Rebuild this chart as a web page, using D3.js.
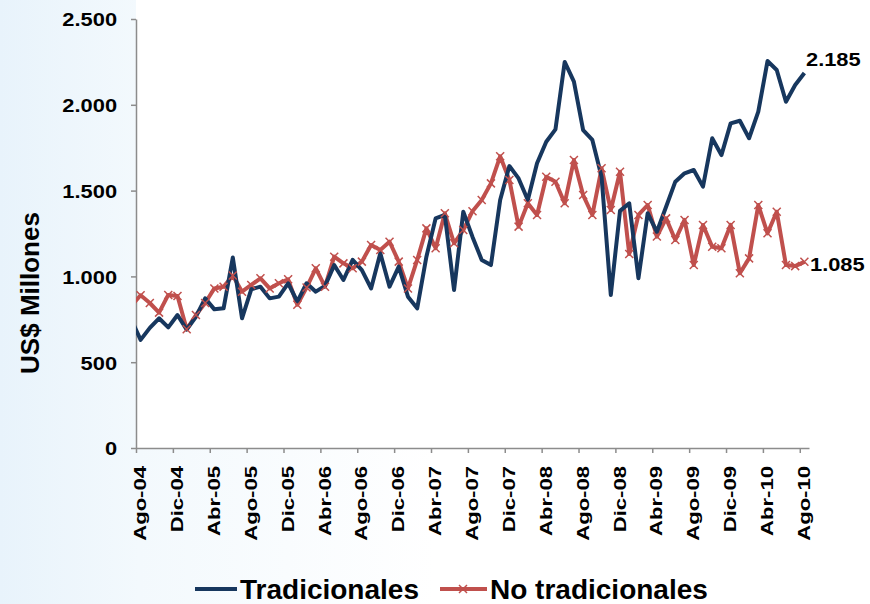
<!DOCTYPE html>
<html>
<head>
<meta charset="utf-8">
<script src="https://cdnjs.cloudflare.com/ajax/libs/d3/7.8.5/d3.min.js"></script>
<style>
    body { margin: 0; background: #fff; }
    text { font-family: "Liberation Sans", Arial, sans-serif; font-weight: bold; fill: #000; }
</style>
</head>
<body>
<svg id="chart" width="870" height="604"></svg>
<script>
// months, first one (Jul-04) sits left of the axis and gets clipped
var meses = ["Jul-04",
    "Ago-04", "Sep-04", "Oct-04", "Nov-04", "Dic-04", "Ene-05", "Feb-05", "Mar-05", "Abr-05", "May-05", "Jun-05", "Jul-05",
    "Ago-05", "Sep-05", "Oct-05", "Nov-05", "Dic-05", "Ene-06", "Feb-06", "Mar-06", "Abr-06", "May-06", "Jun-06", "Jul-06",
    "Ago-06", "Sep-06", "Oct-06", "Nov-06", "Dic-06", "Ene-07", "Feb-07", "Mar-07", "Abr-07", "May-07", "Jun-07", "Jul-07",
    "Ago-07", "Sep-07", "Oct-07", "Nov-07", "Dic-07", "Ene-08", "Feb-08", "Mar-08", "Abr-08", "May-08", "Jun-08", "Jul-08",
    "Ago-08", "Sep-08", "Oct-08", "Nov-08", "Dic-08", "Ene-09", "Feb-09", "Mar-09", "Abr-09", "May-09", "Jun-09", "Jul-09",
    "Ago-09", "Sep-09", "Oct-09", "Nov-09", "Dic-09", "Ene-10", "Feb-10", "Mar-10", "Abr-10", "May-10", "Jun-10", "Jul-10",
    "Ago-10"];

var tradicionales = [748,
    630, 700, 756, 703, 775, 690, 765, 872, 808, 814, 1110, 756,
    925, 940, 872, 882, 960, 853, 960, 911, 945, 1066, 979, 1096,
    1037, 930, 1135, 940, 1057, 882, 814, 1115, 1338, 1358, 921, 1377,
    1230, 1096, 1066, 1445, 1643, 1571, 1445, 1659, 1785, 1857, 2250, 2135,
    1853, 1795, 1581, 892, 1382, 1426, 989, 1368, 1260, 1406, 1552, 1601,
    1620, 1523, 1805, 1707, 1892, 1907, 1805, 1960, 2255, 2203, 2018, 2115,
    2185];

var noTradicionales = [829,
    890, 845, 789, 892, 886, 692, 775, 845, 930, 940, 1005, 911,
    950, 989, 930, 960, 983, 835, 935, 1047, 940, 1115, 1076, 1047,
    1086, 1183, 1154, 1202, 1086, 930, 1096, 1280, 1164, 1368, 1193, 1270,
    1380, 1445, 1542, 1700, 1562, 1290, 1426, 1358, 1581, 1552, 1426, 1678,
    1474, 1358, 1630, 1387, 1610, 1130, 1358, 1416, 1232, 1338, 1212, 1329,
    1066, 1300, 1173, 1164, 1300, 1018, 1105, 1416, 1251, 1377, 1066, 1060,
    1085];

var yTicks = [0, 500, 1000, 1500, 2000, 2500];
var tickLabels = ["Ago-04", "Dic-04", "Abr-05", "Ago-05", "Dic-05", "Abr-06", "Ago-06", "Dic-06", "Abr-07",
    "Ago-07", "Dic-07", "Abr-08", "Ago-08", "Dic-08", "Abr-09", "Ago-09", "Dic-09", "Abr-10", "Ago-10"];
var seriesNames = ["Tradicionales", "No tradicionales"];

var colorTrad = "#17375E";
var colorNoTrad = "#C0504D";
var axisColor = "#8C8C8C";

var svg = d3.select("#chart");
var defs = svg.append("defs");

var grad = defs.append("linearGradient").attr("id", "bg").attr("x1", "0").attr("x2", "1").attr("y1", "0").attr("y2", "0");
grad.append("stop").attr("offset", "0").attr("stop-color", "#e8f3fb");
grad.append("stop").attr("offset", "0.16").attr("stop-color", "#f3f9fd");
grad.append("stop").attr("offset", "0.5").attr("stop-color", "#ffffff");

svg.append("rect").attr("width", 870).attr("height", 604).attr("fill", "url(#bg)");

var plotL = 136, plotR = 809, plotT = 19, plotB = 448;

// plot area
svg.append("rect").attr("x", plotL).attr("y", 0).attr("width", 870 - plotL).attr("height", plotB).attr("fill", "#fff");

defs.append("clipPath").attr("id", "clip")
    .append("rect").attr("x", plotL).attr("y", 0).attr("width", 870 - plotL).attr("height", plotB);

// category index: Ago-04 = 0, points sit in the middle of each slot
var x = d3.scaleLinear().domain([0, 73]).range([plotL, plotR]);
var y = d3.scaleLinear().domain([0, 2500]).range([plotB, plotT]);

function px(i) { return x(i - 1 + 0.5); }  // i is index into the arrays (0 = Jul-04)

var fmt = d3.formatLocale({ decimal: ",", thousands: ".", grouping: [3], currency: ["$", ""] }).format(",d");

// y axis
var yAxis = svg.append("g")
    .attr("transform", "translate(" + plotL + ",0)")
    .call(d3.axisLeft(y).tickValues(yTicks).tickSize(5).tickSizeOuter(0).tickFormat(fmt));
yAxis.select(".domain").attr("stroke", axisColor).attr("stroke-width", 1.5);
yAxis.selectAll(".tick line").attr("stroke", axisColor).attr("stroke-width", 1.5);
yAxis.selectAll(".tick text")
    .attr("x", -16.5)
    .attr("dy", "0.36em")
    .attr("transform", "scale(1.15,1)")
    .style("font-size", "19px")
    .style("font-family", "'Liberation Sans', Arial, sans-serif")
    .style("font-weight", "bold")
    .attr("fill", "#000");

// x axis (ticks on slot boundaries)
var xAxis = svg.append("g")
    .attr("transform", "translate(0," + plotB + ")")
    .call(d3.axisBottom(x).tickValues(d3.range(0, 73, 4)).tickSize(5).tickSizeOuter(0).tickFormat(""));
xAxis.select(".domain").attr("stroke", axisColor).attr("stroke-width", 1.5);
xAxis.selectAll(".tick line").attr("stroke", axisColor).attr("stroke-width", 1.5);

svg.append("g").selectAll("text")
    .data(tickLabels)
    .enter().append("text")
    .attr("transform", function (d, k) {
        return "translate(" + x(k * 4 + 0.5) + ",466) rotate(-90) scale(1.38,1)";
    })
    .attr("text-anchor", "end")
    .attr("dy", "0.35em")
    .style("font-size", "16px")
    .text(function (d) { return d; });

// y title
svg.append("text")
    .attr("transform", "translate(30,293) rotate(-90)")
    .attr("text-anchor", "middle")
    .attr("dy", "0.36em")
    .style("font-size", "26px")
    .text("US$ Millones");

// lines
var line = d3.line()
    .x(function (d, i) { return px(i); })
    .y(function (d) { return y(d); });

var plot = svg.append("g").attr("clip-path", "url(#clip)");

plot.append("path")
    .datum(noTradicionales)
    .attr("d", line)
    .attr("fill", "none")
    .attr("stroke", colorNoTrad)
    .attr("stroke-width", 4)
    .attr("stroke-linejoin", "round");

plot.append("path")
    .datum(tradicionales)
    .attr("d", line)
    .attr("fill", "none")
    .attr("stroke", colorTrad)
    .attr("stroke-width", 4)
    .attr("stroke-linejoin", "round");

var xMark = "M-4,-4L4,4M-4,4L4,-4";

plot.append("g").selectAll("path")
    .data(noTradicionales)
    .enter().append("path")
    .attr("transform", function (d, i) { return "translate(" + px(i) + "," + y(d) + ")"; })
    .attr("d", xMark)
    .attr("stroke", colorNoTrad)
    .attr("stroke-width", 1.5)
    .attr("fill", "none");

// end labels
var last = tradicionales.length - 1;
svg.append("text")
    .attr("transform", "translate(806," + (y(tradicionales[last]) - 7) + ") scale(1.15,1)")
    .style("font-size", "19px")
    .text(fmt(tradicionales[last]));
svg.append("text")
    .attr("transform", "translate(810," + (y(noTradicionales[last]) + 9) + ") scale(1.15,1)")
    .style("font-size", "19px")
    .text(fmt(noTradicionales[last]));

// legend
var legend = svg.append("g");
legend.append("line").attr("x1", 195).attr("x2", 237).attr("y1", 589).attr("y2", 589)
    .attr("stroke", colorTrad).attr("stroke-width", 4);
legend.append("text").attr("x", 240).attr("y", 599).style("font-size", "28px").text(seriesNames[0]);
legend.append("line").attr("x1", 440).attr("x2", 487).attr("y1", 589).attr("y2", 589)
    .attr("stroke", colorNoTrad).attr("stroke-width", 4);
legend.append("path").attr("transform", "translate(463,589)").attr("d", xMark)
    .attr("stroke", colorNoTrad).attr("stroke-width", 1.5).attr("fill", "none");
legend.append("text").attr("x", 490).attr("y", 599).style("font-size", "28px").text(seriesNames[1]);
</script>
</body>
</html>
